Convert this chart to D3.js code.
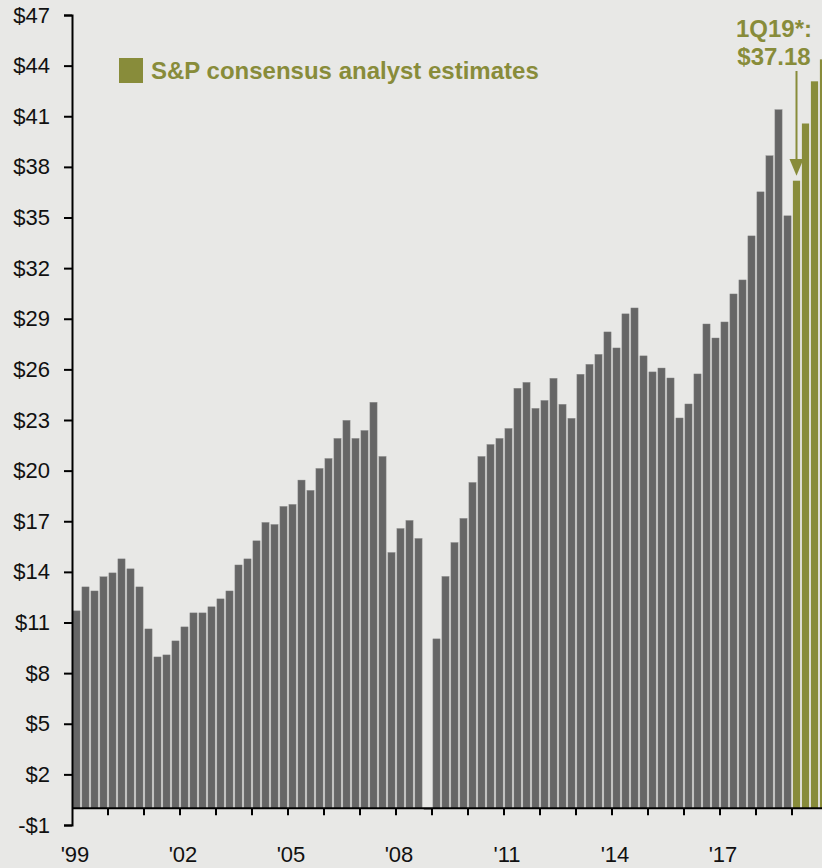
<!DOCTYPE html>
<html>
<head>
<meta charset="utf-8">
<script src="https://cdn.jsdelivr.net/npm/d3@7"></script>
<style>
  html, body { margin: 0; padding: 0; background: #e8e8e6; }
  svg { display: block; font-family: Arial, "Liberation Sans", sans-serif; }
</style>
</head>
<body>
<svg id="chart" width="822" height="868"></svg>
<script>
// quarterly operating EPS, 1Q99 - 4Q18 (4Q08 slightly negative)
var actualEps = [
  11.69, 13.11, 12.87, 13.71,  // '99
  13.94, 14.77, 14.18, 13.11,  // '00
  10.62,  8.96,  9.08,  9.91,  // '01
  10.74, 11.57, 11.57, 11.93,  // '02
  12.40, 12.87, 14.41, 14.77,  // '03
  15.84, 16.93, 16.81, 17.88,  // '04
  18.00, 19.44, 18.83, 20.13,  // '05
  20.72, 21.91, 22.98, 21.91,  // '06
  22.38, 24.05, 20.84, 15.15,  // '07
  16.57, 17.05, 15.98, -0.09,  // '08
  10.03, 13.73, 15.74, 17.17,  // '09
  19.30, 20.84, 21.55, 21.91,  // '10
  22.50, 24.88, 25.23, 23.69,  // '11
  24.16, 25.47, 23.93, 23.10,  // '12
  25.71, 26.30, 26.89, 28.22,  // '13
  27.27, 29.29, 29.64, 26.80,  // '14
  25.85, 26.08, 25.49, 23.12,  // '15
  23.95, 25.73, 28.69, 27.86,  // '16
  28.81, 30.47, 31.30, 33.91,  // '17
  36.52, 38.66, 41.39, 35.10   // '18
];
// S&P consensus analyst estimates, 1Q19 - 4Q19
var estimateEps = [37.18, 40.57, 43.07, 44.37];

var firstYear = 1999;
var yTicks = [-1, 2, 5, 8, 11, 14, 17, 20, 23, 26, 29, 32, 35, 38, 41, 44, 47];
var yearLabels = ["'99", "'02", "'05", "'08", "'11", "'14", "'17"];
var legendText = "S&P consensus analyst estimates";
var calloutLines = ["1Q19*:", "$37.18"];

var grey = "#666666", olive = "#888c3a";

var svg = d3.select("#chart");

var bars = actualEps.map(function(v, i) { return { q: i, v: v, est: false }; })
  .concat(estimateEps.map(function(v, i) { return { q: actualEps.length + i, v: v, est: true }; }));

var nYears = bars.length / 4;
var x0 = 72, step = 9;

var x = d3.scaleBand()
    .domain(bars.map(function(d) { return d.q; }))
    .range([x0, x0 + bars.length * step])
    .paddingInner(0.2)
    .paddingOuter(0.1);

var xYear = d3.scaleLinear()
    .domain([firstYear, firstYear + nYears])
    .range([x0, x0 + bars.length * step]);

var y = d3.scaleLinear().domain([-1, 47]).range([825, 15]);

// bars
svg.append("g").selectAll("rect")
  .data(bars)
  .enter().append("rect")
    .attr("x", function(d) { return x(d.q); })
    .attr("width", x.bandwidth())
    .attr("y", function(d) { return y(Math.max(0, d.v)); })
    .attr("height", function(d) { return Math.abs(y(d.v) - y(0)); })
    .attr("fill", function(d) { return d.est ? olive : grey; })
    .attr("stroke", function(d) { return d.est ? "none" : "#8a8a8a"; })
    .attr("stroke-width", 0.4);

// y axis
var yAxis = svg.append("g")
    .attr("transform", "translate(" + x0 + ",0)")
    .call(d3.axisLeft(y).tickValues(yTicks).tickSize(8).tickPadding(14)
      .tickFormat(function(d) { return d < 0 ? "-$" + Math.abs(d) : "$" + d; }));
yAxis.select(".domain").attr("stroke", "#000").attr("stroke-width", 2);
yAxis.selectAll(".tick line").attr("stroke", "#000").attr("stroke-width", 2);
yAxis.selectAll("text")
    .attr("font-size", 22).attr("fill", "#111")
    .attr("font-family", "Arial, 'Liberation Sans', sans-serif");

// x axis at zero
var years = d3.range(firstYear + 1, firstYear + nYears + 1);
var xAxis = svg.append("g")
    .attr("transform", "translate(0," + y(0) + ")");
xAxis.append("line")
    .attr("x1", x0).attr("x2", 822)
    .attr("stroke", "#000").attr("stroke-width", 2);
xAxis.selectAll(".yt")
  .data(years)
  .enter().append("line")
    .attr("class", "yt")
    .attr("x1", function(d) { return xYear(d); })
    .attr("x2", function(d) { return xYear(d); })
    .attr("y1", 0).attr("y2", 7)
    .attr("stroke", "#000").attr("stroke-width", 2);

svg.append("g").selectAll("text")
  .data(yearLabels)
  .enter().append("text")
    .attr("x", function(d, i) { return xYear(firstYear + i * 3) + 3; })
    .attr("y", 862)
    .attr("text-anchor", "middle")
    .attr("font-size", 22)
    .attr("fill", "#111")
    .text(function(d) { return d; });

// legend
svg.append("rect")
    .attr("x", 119).attr("y", 58)
    .attr("width", 24).attr("height", 25)
    .attr("fill", olive);
svg.append("text")
    .attr("x", 151).attr("y", 79)
    .attr("font-size", 24).attr("font-weight", "bold")
    .attr("fill", olive)
    .text(legendText);

// callout for first estimate
var firstEst = bars[actualEps.length];
var ax = x(firstEst.q) + x.bandwidth() / 2;
svg.append("g").selectAll("text")
  .data(calloutLines)
  .enter().append("text")
    .attr("x", 774)
    .attr("y", function(d, i) { return 37 + i * 28; })
    .attr("text-anchor", "middle")
    .attr("font-size", 24).attr("font-weight", "bold")
    .attr("fill", olive)
    .text(function(d) { return d; });
svg.append("line")
    .attr("x1", ax).attr("x2", ax)
    .attr("y1", 71).attr("y2", 162)
    .attr("stroke", olive).attr("stroke-width", 2);
svg.append("path")
    .attr("d", "M" + (ax - 7) + "," + 159 + "L" + (ax + 7) + "," + 159 + "L" + ax + "," + (y(firstEst.v) - 5) + "Z")
    .attr("fill", olive);
</script>
</body>
</html>
